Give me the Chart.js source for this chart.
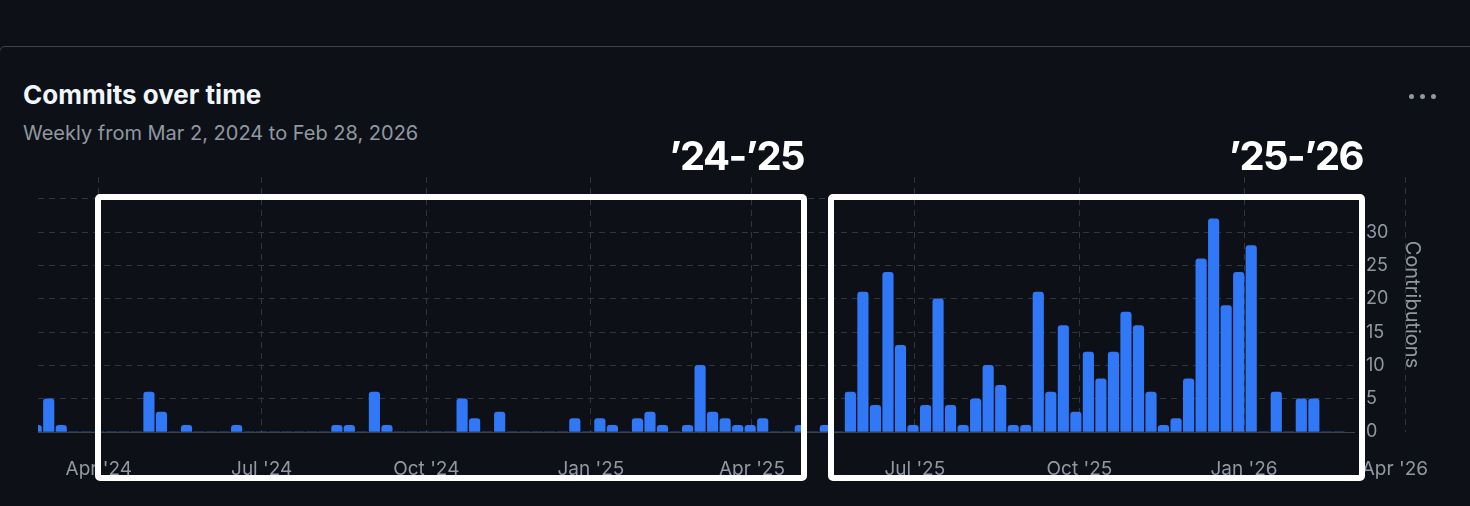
<!DOCTYPE html>
<html>
<head>
<meta charset="utf-8">
<title>Commits over time</title>
<script src="https://cdn.jsdelivr.net/npm/chart.js@4.4.1/dist/chart.umd.min.js"></script>
<style>
  html, body { margin: 0; padding: 0; background: #0d1117; }
  body { width: 1470px; height: 506px; position: relative; overflow: hidden; font-family: Inter, "Noto Sans", sans-serif; }
  .panel { position: absolute; left: -1px; top: 46px; width: 1480px; height: 520px; border: 1px solid #3d444d; border-radius: 6px; }
  .title { position: absolute; left: 23px; top: 82px; font-size: 26px; line-height: 26px; font-weight: 700; color: #f0f6fc; white-space: nowrap; }
  .subtitle { position: absolute; left: 23px; top: 123px; font-size: 20px; line-height: 20px; color: #9198a1; white-space: nowrap; }
  .menu span { position: absolute; top: 94px; width: 5px; height: 5px; border-radius: 50%; background: #9198a1; }
  #wrap { position: absolute; left: 0; top: 0; width: 1470px; height: 506px; }
  .box { position: absolute; top: 194px; height: 287px; border: 6px solid #fff; border-radius: 5px; box-sizing: border-box; pointer-events: none; }
  .tag { position: absolute; top: 136px; font-size: 40px; line-height: 40px; font-weight: 700; color: #fff; white-space: nowrap; letter-spacing: -1.6px; }
</style>
</head>
<body>
<div class="panel"></div>
<div class="title">Commits over time</div>
<div class="subtitle">Weekly from Mar 2, 2024 to Feb 28, 2026</div>
<div class="menu"><span style="left:1409px"></span><span style="left:1420px"></span><span style="left:1431px"></span></div>
<div id="wrap"><canvas id="chart"></canvas></div>
<div class="box" style="left:95px; width:712px"></div>
<div class="box" style="left:828px; width:537px"></div>
<div class="tag" style="right:666px">’24-’25</div>
<div class="tag" style="right:107px">’25-’26</div>

<script>
// weekly commit counts, first bar is the week of firstWeek
const firstWeek = '2024-02-26';
const commits = [
  1, 5, 1, 0, 0, 0, 0, 0, 0, 6,
  3, 0, 1, 0, 0, 0, 1, 0, 0, 0,
  0, 0, 0, 0, 1, 1, 0, 6, 1, 0,
  0, 0, 0, 0, 5, 2, 0, 3, 0, 0,
  0, 0, 0, 2, 0, 2, 1, 0, 2, 3,
  1, 0, 1, 10, 3, 2, 1, 1, 2, 0,
  0, 1, 0, 1, 0, 6, 21, 4, 24, 13,
  1, 4, 20, 4, 1, 5, 10, 7, 1, 1,
  21, 6, 16, 3, 12, 8, 12, 18, 16, 6,
  1, 2, 8, 26, 32, 19, 24, 28, 0, 6,
  0, 5, 5, 0, 0
];

const monthTicks = ['2024-04-01', '2024-07-01', '2024-10-01', '2025-01-01', '2025-04-01',
  '2025-07-01', '2025-10-01', '2026-01-01', '2026-04-01'];
const monthLabels = ["Apr '24", "Jul '24", "Oct '24", "Jan '25", "Apr '25",
  "Jul '25", "Oct '25", "Jan '26", "Apr '26"];

const yTicks = [0, 5, 10, 15, 20, 25, 30, 35];
const yTickLabels = ['0', '5', '10', '15', '20', '25', '30', ''];

const DAY = 86400000;
const day0 = Date.parse('2024-04-01');
const dayOf = s => (Date.parse(s) - day0) / DAY;

const gridColor = '#30363d';
const baseColor = '#3d444d';
const tickColor = '#9198a1';
const xFont = { family: 'Inter', size: 19 };
const yFont = { family: 'Inter', size: 18 };

Chart.defaults.font.family = 'Inter';

// month ticks past the axis end (Apr '26) still get a gridline and label,
// the label is kept inside the right margin like the original does
const overflowTicks = {
  id: 'overflowTicks',
  beforeDatasetsDraw(chart) {
    const x = chart.scales.x;
    const o = x.options;
    const { top, bottom } = chart.chartArea;
    const ctx = chart.ctx;
    const lineHeight = xFont.size * 1.2;
    const rightLimit = chart.width - 42;
    monthTicks.forEach((d, i) => {
      const v = dayOf(d);
      if (v >= x.min && v <= x.max) return;
      const px = Math.round(x.getPixelForValue(v)) + 0.5;
      ctx.save();
      ctx.strokeStyle = gridColor;
      ctx.lineWidth = 1;
      ctx.setLineDash([6, 5]);
      ctx.beginPath();
      ctx.moveTo(px, top);
      ctx.lineTo(px, bottom);
      ctx.stroke();
      ctx.setLineDash([]);
      ctx.fillStyle = tickColor;
      ctx.font = xFont.size + 'px ' + xFont.family;
      ctx.textBaseline = 'middle';
      const w = ctx.measureText(monthLabels[i]).width;
      const lx = Math.min(px - w / 2, rightLimit - w);
      ctx.textAlign = 'left';
      ctx.fillText(monthLabels[i], lx, bottom + o.ticks.padding + lineHeight / 2);
      ctx.restore();
    });
  }
};

new Chart(document.getElementById('chart'), {
  type: 'bar',
  data: {
    datasets: [{
      data: commits.map((c, i) => ({ x: dayOf(firstWeek) + 7 * i, y: c })),
      backgroundColor: '#3178f6',
      borderRadius: 3,
      barThickness: 10.5,
      clip: 0
    }]
  },
  options: {
    responsive: true,
    maintainAspectRatio: false,
    animation: false,
    layout: { padding: { left: 38, top: 177, right: 46, bottom: 26 } },
    plugins: { legend: { display: false }, tooltip: { enabled: false } },
    scales: {
      x: {
        type: 'linear',
        min: dayOf('2024-02-27'),
        max: dayOf('2026-03-04'),
        offset: false,
        afterBuildTicks: s => {
          s.ticks = monthTicks.map(dayOf).filter(v => v >= s.min && v <= s.max).map(v => ({ value: v }));
        },
        afterFit: s => { s.height = 48; },
        grid: { color: gridColor, lineWidth: 1, drawTicks: false, offset: false },
        border: { display: false, dash: [6, 5] },
        ticks: {
          autoSkip: false,
          maxRotation: 0,
          padding: 26,
          color: tickColor,
          font: xFont,
          callback: v => monthLabels[monthTicks.map(dayOf).indexOf(v)]
        }
      },
      y: {
        position: 'right',
        min: 0,
        max: 38.3,
        afterBuildTicks: s => { s.ticks = yTicks.map(v => ({ value: v })); },
        afterFit: s => { s.width = 69; },
        grid: {
          color: c => (c.tick && c.tick.value === 0 ? baseColor : gridColor),
          lineWidth: 1,
          drawTicks: false
        },
        border: { display: false, dash: c => (c.tick && c.tick.value === 0 ? [] : [6, 5]) },
        ticks: {
          padding: 11,
          crossAlign: 'near',
          color: tickColor,
          font: yFont,
          callback: (v, i) => yTickLabels[i]
        },
        title: { display: true, text: 'Contributions', color: tickColor, font: { family: 'Inter', size: 20 }, padding: 0 }
      }
    }
  },
  plugins: [overflowTicks]
});
</script>
</body>
</html>
